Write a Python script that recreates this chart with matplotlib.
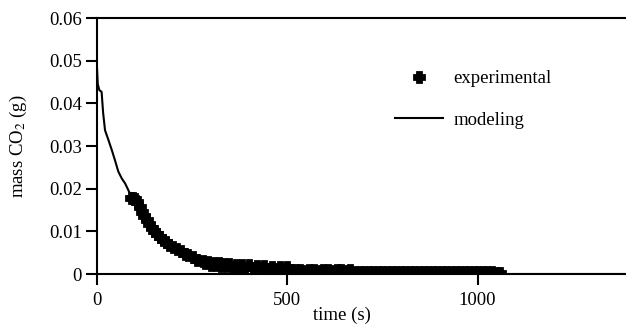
import matplotlib
matplotlib.use("Agg")
import matplotlib.pyplot as plt

plt.rcParams["font.family"] = ["Liberation Serif", "DejaVu Serif"]
plt.rcParams["mathtext.fontset"] = "stix"

# modeling curve (time in s, mass CO2 in g)
model_time = [0, 2, 6, 12, 16, 21, 30, 39, 47, 56, 65, 74, 82, 90, 100, 120, 140,
              160, 180, 200, 250, 300, 350, 400, 500, 600, 800, 1000, 1400]
model_mass = [0.0482, 0.0445, 0.0431, 0.0427, 0.0378, 0.0337, 0.0314, 0.0290, 0.0267,
              0.0240, 0.0224, 0.0212, 0.0197, 0.0182, 0.0163, 0.0132, 0.0107, 0.0088,
              0.0070, 0.0057, 0.0034, 0.0020, 0.0012, 0.0007, 0.00025, 0.0001,
              0.00001, 0.0, 0.0]

# experimental points
exp_time = [88, 94, 100, 106, 112, 118, 124, 130, 137, 144, 151, 158, 165, 173, 181,
            190, 200, 210, 220, 230, 240, 252, 264,
            278, 285, 292, 299, 306, 313, 320, 327, 334, 341, 348, 356, 364, 372,
            380, 390, 400, 410, 420, 430, 440, 450, 460, 470, 480, 490, 500,
            510, 522, 534, 546, 558, 570, 582, 594, 606, 618, 630, 642, 654, 666,
            678, 690, 702, 714, 726, 738, 750, 762, 774, 786, 798, 810, 822, 834,
            846, 858, 870, 882, 894, 906, 918, 930, 942, 954, 966, 978, 990, 1002,
            1014, 1026, 1038, 1050, 1060]
exp_mass = [0.0178, 0.0178, 0.0176, 0.0168, 0.0157, 0.0146, 0.0136, 0.0127, 0.0117,
            0.0108, 0.0100, 0.0093, 0.0087, 0.0080, 0.0074, 0.0068, 0.0063, 0.0058,
            0.0053, 0.0048, 0.0044, 0.0040, 0.0034,
            0.0030, 0.0025, 0.0027, 0.0022, 0.0026, 0.0020, 0.0025, 0.0019, 0.0024,
            0.0018, 0.0023, 0.0016, 0.0022, 0.0015, 0.0021, 0.0014, 0.0020, 0.0013,
            0.0019, 0.0013, 0.0018, 0.0012, 0.0017, 0.0012, 0.0016, 0.0011, 0.0016,
            0.0009, 0.0009, 0.0009, 0.0008, 0.0009, 0.0009, 0.0008, 0.0009, 0.0009,
            0.0008, 0.0009, 0.0009, 0.0008, 0.0009,
            0.0004, 0.0004, 0.0004, 0.0004, 0.0004, 0.0004, 0.0004, 0.0004, 0.0004,
            0.0004, 0.0004, 0.0004, 0.0004, 0.0004, 0.0004, 0.0004, 0.0004, 0.0004,
            0.0004, 0.0004, 0.0004, 0.0004, 0.0004, 0.0004, 0.0004, 0.0004, 0.0004,
            0.0004, 0.0004, 0.0004, 0.0004, 0.0003, 0.0003]

x_ticks = [0, 500, 1000]
y_ticks = [0, 0.01, 0.02, 0.03, 0.04, 0.05, 0.06]
y_labels = ["0", "0.01", "0.02", "0.03", "0.04", "0.05", "0.06"]

fig = plt.figure(figsize=(6.26, 3.28), dpi=100)
ax = fig.add_axes([0.155, 0.1646, 0.845, 0.7805])

ax.plot(model_time, model_mass, color="black", lw=1.5, label="modeling", zorder=2)
ax.plot(exp_time, exp_mass, ls="none", marker="P", ms=7, mew=2.0, color="black",
        label="experimental", zorder=3)

ax.set_xlim(0, 1390)
ax.set_ylim(0, 0.06)
ax.set_xticks(x_ticks)
ax.set_xticklabels([str(t) for t in x_ticks])
ax.set_yticks(y_ticks)
ax.set_yticklabels(y_labels)
ax.tick_params(direction="out", length=8, width=1.5, labelsize=13.5, pad=3)
ax.tick_params(axis="x", pad=5)

for side in ["left", "top", "bottom"]:
    ax.spines[side].set_linewidth(1.5)
ax.spines["right"].set_visible(False)
for s in ax.spines.values():
    s.set_clip_on(False)

ax.set_xlabel("time (s)", fontsize=13.5)
ax.xaxis.set_label_coords(0.463, -0.128)
ax.set_ylabel("mass CO$_2$ (g)", fontsize=13.5)
ax.yaxis.set_label_coords(-0.128, 0.5)

handles, labels = ax.get_legend_handles_labels()
ax.legend(handles[::-1], labels[::-1], loc="upper left",
          bbox_to_anchor=(395 / 626, 1 - 70 / 328), bbox_transform=fig.transFigure,
          frameon=False, fontsize=13.5, handlelength=2.55, handletextpad=0.55,
          labelspacing=1.3, borderpad=0, borderaxespad=0)

fig.savefig("out.png", dpi=100)
plt.close(fig)
